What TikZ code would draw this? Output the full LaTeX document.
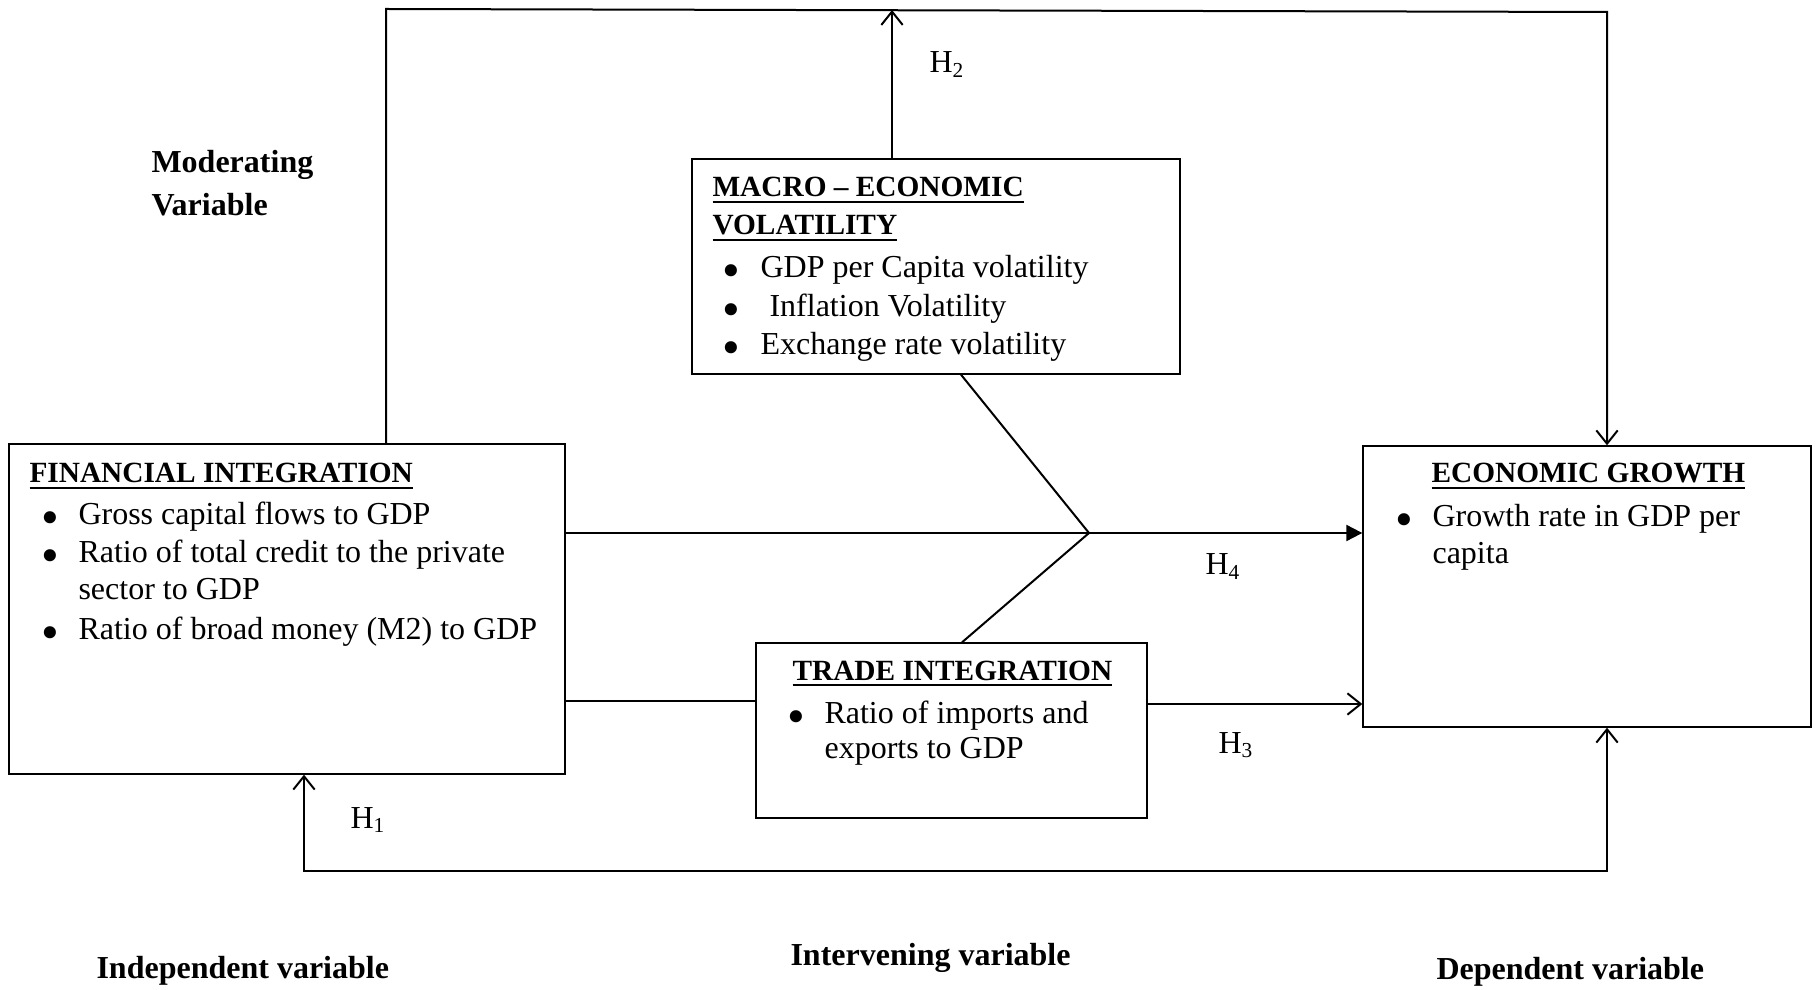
\documentclass[tikz,border=0pt]{standalone}
\usepackage{fontspec}
\setmainfont{Liberation Serif}
\usetikzlibrary{arrows.meta,fit}
\newcommand{\myul}[1]{\setbox0\hbox{#1}\rlap{\rule[-2.4pt]{\wd0}{0.9pt}}\box0}
\begin{document}
\begin{tikzpicture}[x=0.375pt,y=-0.375pt,
  box/.style={draw, line width=0.5pt, inner sep=0pt},
  txt/.style={anchor=base west, inner sep=0pt, font=\fontsize{12}{14}\selectfont},
  ttl/.style={anchor=base west, inner sep=0pt, font=\fontsize{11}{13}\selectfont\bfseries},
  bul/.style={anchor=base, inner sep=0pt, font=\fontsize{19}{19}\selectfont},
  conn/.style={line width=0.75pt},
  barb/.style={-{Straight Barb[length=5pt,width=8pt]}},
  barbboth/.style={{Straight Barb[length=5pt,width=8pt]}-{Straight Barb[length=5pt,width=8pt]}},
  tri/.style={-{Triangle[length=6pt,width=6pt]}}
]
\useasboundingbox (0,0) rectangle (1817,990);

% boxes
\node[box, fit={(9,444) (565,774)}] (fin) {};
\node[box, fit={(692,159) (1180,374)}] (macro) {};
\node[box, fit={(1363,446) (1811,727)}] (eg) {};
\node[box, fit={(756,643) (1147,818)}] (trade) {};

% financial integration text
\node[ttl] (f0) at (29,483) {\myul{FINANCIAL INTEGRATION}};
\node[bul] (fb1) at (50,535) {\textbullet};
\node[txt] (f1) at (78,525) {Gross capital flows to GDP};
\node[bul] (fb2) at (50,573) {\textbullet};
\node[txt] (f2) at (78,563) {Ratio of total credit to the private};
\node[txt] (f3) at (78,600) {sector to GDP};
\node[bul] (fb4) at (50,650) {\textbullet};
\node[txt] (f4) at (78,640) {Ratio of broad money (M2) to GDP};

% macro text
\node[ttl] (m0) at (712,197) {\myul{MACRO – ECONOMIC}};
\node[ttl] (m1) at (712,235) {\myul{VOLATILITY}};
\node[bul] (mb2) at (731,288) {\textbullet};
\node[txt] (m2) at (760,278) {GDP per Capita volatility};
\node[bul] (mb3) at (731,327) {\textbullet};
\node[txt] (m3) at (769,317) {Inflation Volatility};
\node[bul] (mb4) at (731,365) {\textbullet};
\node[txt] (m4) at (760,355) {Exchange rate volatility};

% economic growth text
\node[ttl] (e0) at (1431,483) {\myul{ECONOMIC GROWTH}};
\node[bul] (eb1) at (1404,537) {\textbullet};
\node[txt] (e1) at (1432,527) {Growth rate in GDP per};
\node[txt] (e2) at (1432,564) {capita};

% trade text
\node[ttl] (t0) at (792,680) {\myul{TRADE INTEGRATION}};
\node[bul] (tb1) at (796,733) {\textbullet};
\node[txt] (t1) at (824,723) {Ratio of imports and};
\node[txt] (t2) at (824,758) {exports to GDP};

% labels
\node[txt] (mod1) at (151,173) {\textbf{Moderating}};
\node[txt] (mod2) at (151,216) {\textbf{Variable}};
\node[txt] (ind) at (96,978) {\textbf{Independent variable}};
\node[txt] (int) at (790,965) {\textbf{Intervening variable}};
\node[txt] (dep) at (1436,979) {\textbf{Dependent variable}};
\node[txt] (h2) at (929,73) {H\textsubscript{2}};
\node[txt] (h4) at (1205,575) {H\textsubscript{4}};
\node[txt] (h3) at (1218,753) {H\textsubscript{3}};
\node[txt] (h1) at (350,828) {H\textsubscript{1}};

% coordinates
\coordinate (tl) at (386,9);
\coordinate (tr) at (1607,12);
\coordinate (h2top) at (892,10);
\coordinate (h2x) at (892,0);
\coordinate (j) at (1089,533);
\coordinate (mbot) at (961,0);
\coordinate (ttop) at (962,0);
\coordinate (b1) at (304,871);
\coordinate (b2) at (1607,871);
\coordinate (y4) at (0,533);
\coordinate (y5) at (0,701);
\coordinate (y6) at (0,704);

% connectors
\draw[conn, barb] (fin.north -| tl) -- (tl) -- (tr) -- (eg.north -| tr);
\draw[conn, barb] (macro.north -| h2x) -- (h2top);
\draw[conn, tri] (fin.east |- y4) -- (eg.west |- y4);
\draw[conn] (macro.south -| mbot) -- (j) -- (trade.north -| ttop);
\draw[conn] (fin.east |- y5) -- (trade.west |- y5);
\draw[conn, barb] (trade.east |- y6) -- (eg.west |- y6);
\draw[conn, barbboth] (fin.south -| b1) -- (b1) -- (b2) -- (eg.south -| b2);
\end{tikzpicture}
\end{document}
